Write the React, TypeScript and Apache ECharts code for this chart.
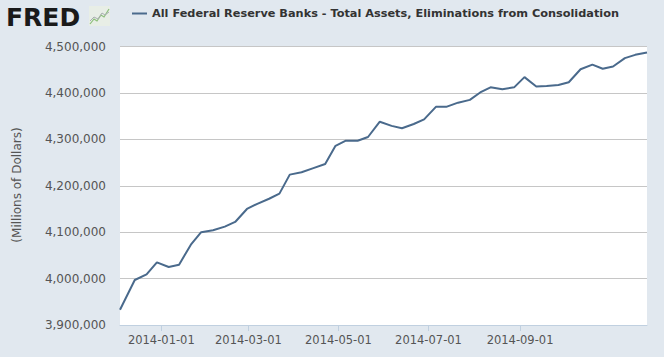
import React, { useEffect, useRef } from "react";
import * as echarts from "echarts";

const SERIES_NAME = "All Federal Reserve Banks - Total Assets, Eliminations from Consolidation";
const Y_AXIS_TITLE = "(Millions of Dollars)";

const dates = [
  "2013-12-04", "2013-12-14", "2013-12-22", "2013-12-29", "2014-01-06", "2014-01-13",
  "2014-01-21", "2014-01-28", "2014-02-05", "2014-02-13", "2014-02-20", "2014-02-28",
  "2014-03-07", "2014-03-15", "2014-03-22", "2014-03-29", "2014-04-06", "2014-04-14",
  "2014-04-22", "2014-04-29", "2014-05-06", "2014-05-14", "2014-05-21", "2014-05-29",
  "2014-06-06", "2014-06-13", "2014-06-21", "2014-06-28", "2014-07-06", "2014-07-13",
  "2014-07-21", "2014-07-29", "2014-08-05", "2014-08-12", "2014-08-20", "2014-08-28",
  "2014-09-04", "2014-09-12", "2014-09-19", "2014-09-27", "2014-10-04", "2014-10-12",
  "2014-10-20", "2014-10-27", "2014-11-03", "2014-11-11", "2014-11-18", "2014-11-26",
];

const totalAssets = [
  3933000, 3997000, 4009000, 4035000, 4025000, 4030000,
  4073000, 4100000, 4104000, 4112000, 4122000, 4150000,
  4161000, 4172000, 4183000, 4224000, 4229000, 4238000,
  4247000, 4286000, 4297000, 4297000, 4305000, 4338000,
  4329000, 4324000, 4333000, 4343000, 4370000, 4370000,
  4379000, 4385000, 4401000, 4412000, 4408000, 4412000,
  4434000, 4414000, 4415000, 4417000, 4423000, 4451000,
  4461000, 4452000, 4457000, 4475000, 4482000, 4487000,
];

const xTickDates = ["2014-01-01", "2014-03-01", "2014-05-01", "2014-07-01", "2014-09-01"];
const yMin = 3900000;
const yMax = 4500000;
const yStep = 100000;

function toTs(s: string): number {
  const [y, m, d] = s.split("-").map(Number);
  return Date.UTC(y, m - 1, d);
}

function fmtDate(v: number): string {
  const d = new Date(v);
  const p = (n: number) => (n < 10 ? "0" + n : "" + n);
  return d.getUTCFullYear() + "-" + p(d.getUTCMonth() + 1) + "-" + p(d.getUTCDate());
}

function fmtNum(v: number): string {
  return Math.round(v).toString().replace(/\B(?=(\d{3})+(?!\d))/g, ",");
}

export default function App() {
  const ref = useRef<HTMLDivElement>(null);
  useEffect(() => {
    if (!ref.current) return;
    const chart = echarts.init(ref.current, null, { renderer: "svg" });
    const tickTs = xTickDates.map(toTs);
    const lineColor = "#4a6a8c";
    chart.setOption({
      animation: false,
      backgroundColor: "#e1e8ef",
      textStyle: { fontFamily: "DejaVu Sans" },
      grid: {
        left: 120,
        right: 17,
        top: 46.5,
        bottom: 32,
        show: true,
        backgroundColor: "#ffffff",
        borderWidth: 0,
      },
      legend: {
        data: [SERIES_NAME],
        left: 132,
        top: 8,
        padding: 0,
        icon: "rect",
        itemWidth: 15,
        itemHeight: 2,
        itemGap: 5,
        textStyle: { fontSize: 11.3, fontWeight: "bold", color: "#333333", fontFamily: "DejaVu Sans", padding: [0, 0, 0, 0] },
      },
      xAxis: {
        type: "value",
        min: toTs(dates[0]),
        max: toTs(dates[dates.length - 1]),
        axisLine: { show: true, lineStyle: { color: "#c0d0e0", width: 1 } },
        axisTick: { show: true, length: 6, customValues: tickTs, lineStyle: { color: "#c0d0e0" } },
        axisLabel: {
          customValues: tickTs,
          formatter: (v: number) => fmtDate(v),
          color: "#555555",
          fontSize: 11.5,
          margin: 9,
          fontFamily: "DejaVu Sans",
          hideOverlap: false,
        },
        splitLine: { show: false },
      },
      yAxis: {
        type: "value",
        min: yMin,
        max: yMax,
        interval: yStep,
        axisLine: { show: false },
        axisTick: { show: false },
        axisLabel: {
          formatter: (v: number) => fmtNum(v),
          color: "#555555",
          fontSize: 12,
          margin: 14,
          fontFamily: "DejaVu Sans",
        },
        splitLine: { show: true, lineStyle: { color: "#c6c6c6", width: 1 } },
      },
      graphic: [
        {
          type: "text",
          x: 17,
          y: 185,
          rotation: Math.PI / 2,
          style: {
            text: Y_AXIS_TITLE,
            fill: "#555555",
            fontSize: 12,
            fontFamily: "DejaVu Sans",
            align: "center",
            verticalAlign: "middle",
          },
        },
        {
          type: "text",
          x: 6,
          y: 17,
          style: {
            text: "FRED",
            fill: "#1a1a1a",
            fontSize: 25,
            fontWeight: 900,
            fontFamily: "DejaVu Sans",
            align: "left",
            verticalAlign: "middle",
          },
        },
        {
          type: "rect",
          shape: { x: 89, y: 6, width: 21, height: 20 },
          style: { fill: "#e8eee6" },
        },
        {
          type: "polyline",
          shape: { points: [[90, 24], [94, 19], [97, 21], [101, 15], [104, 17], [109, 9]] },
          style: { stroke: "#8cbf7a", lineWidth: 1.2, fill: "none" },
        },
        {
          type: "polyline",
          shape: { points: [[90, 21], [94, 17], [98, 19], [102, 13], [105, 15], [109, 12]] },
          style: { stroke: "#a9aeb0", lineWidth: 1, fill: "none" },
        },
      ],
      series: [
        {
          name: SERIES_NAME,
          type: "line",
          data: dates.map((d, i) => [toTs(d), totalAssets[i]]),
          showSymbol: false,
          symbol: "none",
          color: lineColor,
          lineStyle: { color: lineColor, width: 2 },
        },
      ],
    });
    return () => chart.dispose();
  }, []);
  return (
    <div
      ref={ref}
      style={{ position: "fixed", left: 0, top: 0, width: 664, height: 357 }}
    />
  );
}
